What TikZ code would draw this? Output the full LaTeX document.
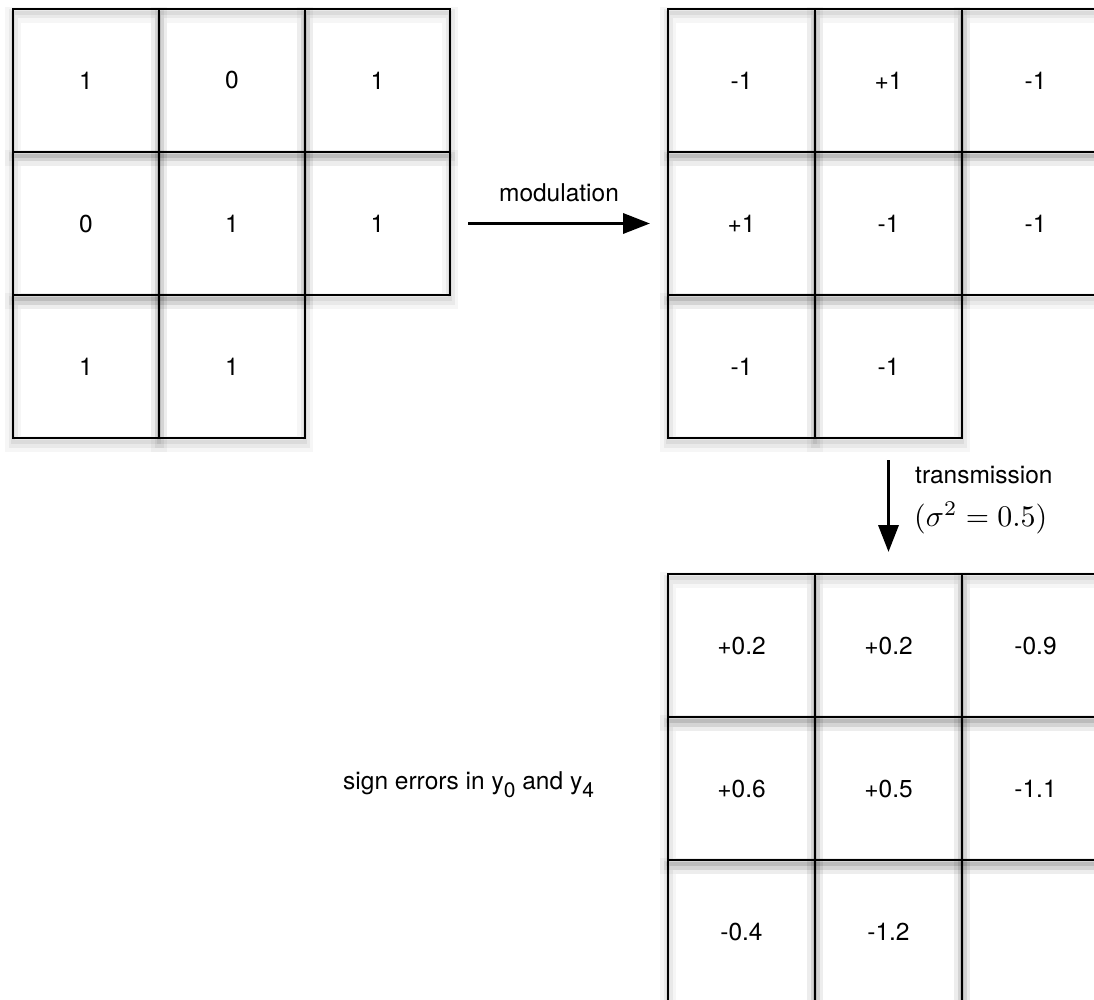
\documentclass[tikz,border=0pt]{standalone}
\usepackage[no-math]{fontspec}
\usepackage{fix-cm}
\usepackage{graphicx}
\setmainfont{TeX Gyre Heros}
\usetikzlibrary{arrows.meta}
\tikzset{
  cellshadow/.style={
    preaction={draw=black, draw opacity=0.035, line width=16pt, transform canvas={yshift=-6pt}},
    preaction={draw=black, draw opacity=0.05, line width=9pt, transform canvas={yshift=-5pt}},
    preaction={draw=black, draw opacity=0.06, line width=4pt, transform canvas={yshift=-4pt}}},
  cell/.style={cellshadow, draw=black, line width=2pt, inner sep=0pt, outer sep=0pt,
    minimum width=#1, minimum height=143pt, font=\fontsize{24.5}{29}\selectfont},
  cell/.default=146pt,
  lbl/.style={font=\fontsize{24.5}{29}\selectfont, inner sep=0pt},
  bigarrow/.style={line width=3.5pt, -{Triangle[length=27pt,width=20pt]}}
}
\begin{document}
\begin{tikzpicture}[x=1pt,y=-1pt]
\clip (0,0) rectangle (1094,1000);
\fill[white] (0,0) rectangle (1094,1000);
% top-left grid
\node[cell] (a11) at (86,80.5) {1};
\node[cell] (a12) at (232,80.5) {0};
\node[cell=145pt] (a13) at (377.5,80.5) {1};
\node[cell] (a21) at (86,223.5) {0};
\node[cell] (a22) at (232,223.5) {1};
\node[cell=145pt] (a23) at (377.5,223.5) {1};
\node[cell] (a31) at (86,366.5) {1};
\node[cell] (a32) at (232,366.5) {1};
% top-right grid
\node[cell=147pt] (b11) at (741.5,80.5) {-1};
\node[cell=147pt] (b12) at (888.5,80.5) {+1};
\node[cell=147pt] (b13) at (1035.5,80.5) {-1};
\node[cell=147pt] (b21) at (741.5,223.5) {+1};
\node[cell=147pt] (b22) at (888.5,223.5) {-1};
\node[cell=147pt] (b23) at (1035.5,223.5) {-1};
\node[cell=147pt] (b31) at (741.5,366.5) {-1};
\node[cell=147pt] (b32) at (888.5,366.5) {-1};
% bottom grid
\node[cell=147pt] (c11) at (741.5,645.5) {+0.2};
\node[cell=147pt] (c12) at (888.5,645.5) {+0.2};
\node[cell=147pt] (c13) at (1035.5,645.5) {-0.9};
\node[cell=147pt] (c21) at (741.5,788.5) {+0.6};
\node[cell=147pt] (c22) at (888.5,788.5) {+0.5};
\node[cell=147pt] (c23) at (1035.5,788.5) {-1.1};
\node[cell=147pt] (c31) at (741.5,931.5) {-0.4};
\node[cell=147pt] (c32) at (888.5,931.5) {-1.2};
\node[cell=147pt] (c33) at (1035.5,931.5) {};
% arrows
\draw[bigarrow, shorten <=18pt, shorten >=18pt] (a23.east) -- (b21.west);
\draw[bigarrow, shorten <=22pt, shorten >=22pt] (b32.south) -- (c12.north);
% labels
\node[lbl] (mod) at (559,193) {modulation};
\node[lbl, anchor=west] (trans) at (915,475) {transmission};
\node[anchor=west, inner sep=0pt] (sig) at (914,518) {\resizebox{133pt}{!}{$(\sigma^2=0.5)$}};
\node[lbl, anchor=west] (err) at (343,785) {sign errors in y\raisebox{-0.32em}{\fontsize{21}{25}\selectfont 0} and y\raisebox{-0.32em}{\fontsize{21}{25}\selectfont 4}};
\end{tikzpicture}
\end{document}
